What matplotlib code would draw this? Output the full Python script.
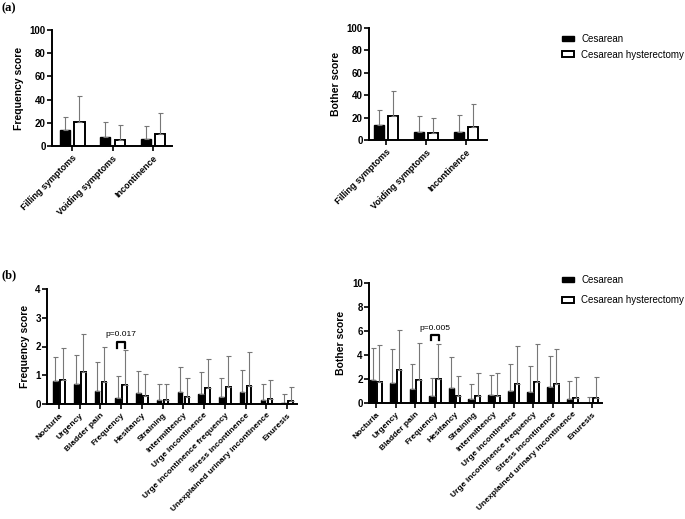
import numpy as np
import matplotlib.pyplot as plt
from matplotlib.patches import Patch

plt.rcParams['font.family'] = ['Liberation Sans', 'DejaVu Sans']
plt.rcParams['font.weight'] = 'bold'

# Domain scores (panel a)
domains = ['Filling symptoms', 'Voiding symptoms', 'Incontinence']
freq_ces = [13.5, 8, 6]
freq_ces_sd = [11.5, 13, 11]
freq_hys = [21, 5.5, 10]
freq_hys_sd = [22, 13, 18.5]
both_ces = [13.5, 7.5, 7]
both_ces_sd = [13, 14, 15]
both_hys = [21, 6, 11.5]
both_hys_sd = [23, 13.5, 20.5]

# Item scores (panel b)
items = ['Nocturia', 'Urgency', 'Bladder pain', 'Frequency', 'Hesitancy', 'Straining',
         'Intermittency', 'Urge incontinence', 'Urge incontinence frequency',
         'Stress incontinence', 'Unexplained urinary incontinence', 'Enuresis']
ifreq_ces = [0.80, 0.68, 0.46, 0.22, 0.39, 0.15, 0.41, 0.35, 0.25, 0.41, 0.15, 0.03]
ifreq_ces_sd = [0.83, 1.02, 0.99, 0.75, 0.75, 0.55, 0.88, 0.76, 0.64, 0.76, 0.55, 0.32]
ifreq_hys = [0.82, 1.12, 0.78, 0.65, 0.27, 0.15, 0.23, 0.55, 0.58, 0.64, 0.16, 0.12]
ifreq_hys_sd = [1.14, 1.30, 1.22, 1.22, 0.78, 0.53, 0.67, 1.03, 1.08, 1.18, 0.68, 0.46]
iboth_ces = [1.95, 1.68, 1.15, 0.55, 1.25, 0.30, 0.68, 0.98, 0.92, 1.35, 0.30, 0.0]
iboth_ces_sd = [2.65, 2.82, 2.10, 1.55, 2.60, 1.30, 1.67, 2.27, 2.18, 2.57, 1.57, 0.52]
iboth_hys = [1.78, 2.72, 1.88, 1.98, 0.60, 0.58, 0.60, 1.58, 1.72, 1.55, 0.42, 0.42]
iboth_hys_sd = [3.02, 3.38, 3.12, 2.90, 1.67, 1.92, 1.90, 3.19, 3.18, 2.97, 1.76, 1.73]

W, H = 685, 519
fig = plt.figure(figsize=(W / 100, H / 100), dpi=100)


def ax_at(x0, x1, ytop, ybot):
    return fig.add_axes([x0 / W, 1 - ybot / H, (x1 - x0) / W, (ybot - ytop) / H])


def draw(ax, labels, c, csd, h, hsd, off, width, ylim, yticks, ylabel, xlim, xfs):
    x = np.arange(len(labels))
    ekw = dict(ecolor='#777777', elinewidth=0.8, capsize=1.8, capthick=0.8)
    ax.bar(x - off, c, width, color='black', edgecolor='black', linewidth=1.0,
           yerr=[np.zeros(len(c)), csd], error_kw=ekw, zorder=2)
    ax.bar(x + off, h, width, color='white', edgecolor='black', linewidth=1.4,
           yerr=[np.zeros(len(h)), hsd], error_kw=ekw, zorder=2)
    ax.set_ylim(*ylim)
    ax.set_xlim(*xlim)
    ax.set_yticks(yticks)
    ax.set_xticks(x)
    ax.set_xticklabels(labels, rotation=45, ha='right', rotation_mode='anchor', fontsize=xfs)
    ax.tick_params(axis='y', labelsize=7, width=1.2, length=3.5, pad=1)
    ax.tick_params(axis='x', width=1.2, length=3.5, pad=2)
    for lab in ax.get_yticklabels():
        lab.set_fontweight('bold')
    for lab in ax.get_xticklabels():
        lab.set_fontweight('bold')
    ax.set_ylabel(ylabel, fontsize=7.5, fontweight='bold', labelpad=4)
    for s in ['top', 'right']:
        ax.spines[s].set_visible(False)
    for s in ['left', 'bottom']:
        ax.spines[s].set_linewidth(1.4)
    ax.set_facecolor('none')


def bracket(ax, xi, off, y0, y1, text, ty):
    ax.plot([xi - off, xi - off, xi + off, xi + off], [y0, y1, y1, y0], color='black', lw=1.6)
    ax.text(xi, ty, text, ha='center', va='center', fontsize=6, fontweight='normal')


ax1 = ax_at(52, 172, 30, 146)
draw(ax1, domains, freq_ces, freq_ces_sd, freq_hys, freq_hys_sd, 0.18, 0.25,
     (0, 100), range(0, 101, 20), 'Frequency score', (-0.5, 2.47), 6.5)
ax2 = ax_at(369, 487, 28, 140)
draw(ax2, domains, both_ces, both_ces_sd, both_hys, both_hys_sd, 0.17, 0.25,
     (0, 100), range(0, 101, 20), 'Bother score', (-0.42, 2.52), 6.5)
ax3 = ax_at(47, 297, 289, 404)
draw(ax3, items, ifreq_ces, ifreq_ces_sd, ifreq_hys, ifreq_hys_sd, 0.17, 0.22,
     (0, 4), range(0, 5), 'Frequency score', (-0.58, 11.48), 6)
ax4 = ax_at(369, 602, 283, 403)
draw(ax4, items, iboth_ces, iboth_ces_sd, iboth_hys, iboth_hys_sd, 0.17, 0.24,
     (0, 10), range(0, 11, 2), 'Bother score', (-0.35, 11.5), 6)

bracket(ax3, 3, 0.2, 1.96, 2.17, 'p=0.017', 2.4)
bracket(ax4, 3, 0.2, 5.25, 5.67, 'p=0.005', 6.2)

handles = [Patch(facecolor='black', edgecolor='black', linewidth=1.0, label='Cesarean'),
           Patch(facecolor='white', edgecolor='black', linewidth=1.4, label='Cesarean hysterectomy')]
fig.legend(handles=handles, loc='upper left', bbox_to_anchor=(553 / W, 1 - 25 / H),
           frameon=False, handlelength=1.3, handleheight=0.5,
           handletextpad=0.7, labelspacing=0.6, prop={'weight': 'normal', 'size': 7})
fig.legend(handles=handles, loc='upper left', bbox_to_anchor=(553 / W, 1 - 266 / H),
           frameon=False, handlelength=1.3, handleheight=0.5,
           handletextpad=0.7, labelspacing=1.1, prop={'weight': 'normal', 'size': 7})

fig.text(2 / W, 1 - 8 / H, '(a)', family='Liberation Serif', fontweight='bold',
         fontsize=9, va='center', ha='left')
fig.text(2 / W, 1 - 275 / H, '(b)', family='Liberation Serif', fontweight='bold',
         fontsize=9, va='center', ha='left')

fig.savefig('out.png', dpi=100)
